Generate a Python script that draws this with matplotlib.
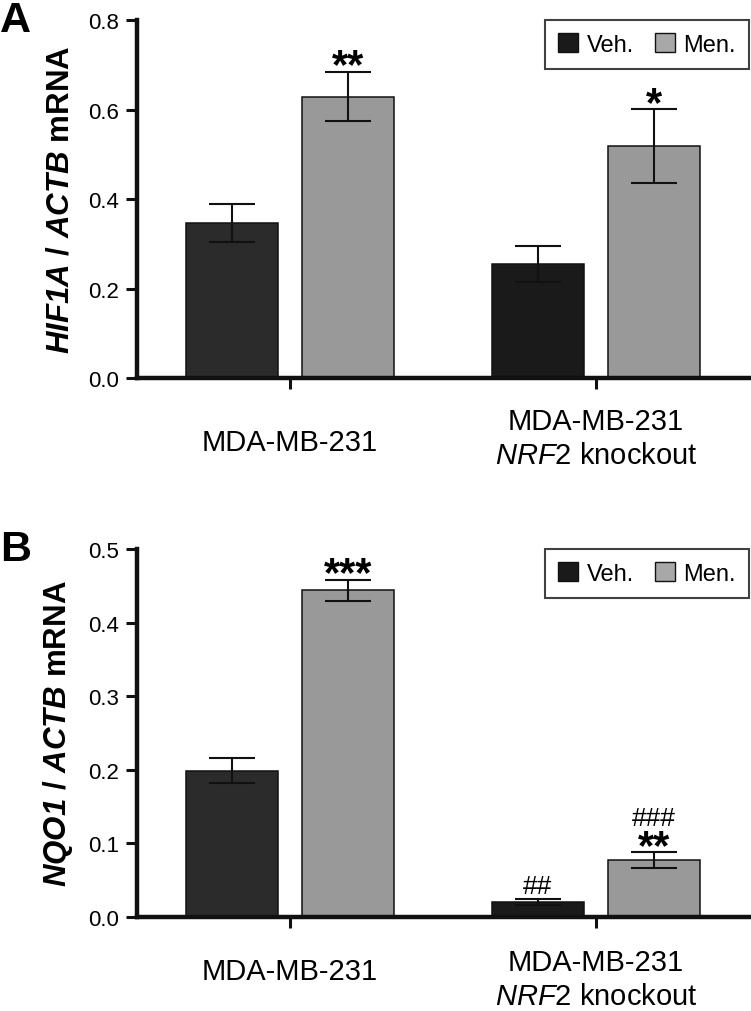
import matplotlib
matplotlib.use('Agg')
import matplotlib.pyplot as plt
import numpy as np
from matplotlib.patches import Patch

plt.rcParams['font.family'] = ['Liberation Sans', 'DejaVu Sans']
plt.rcParams['mathtext.fontset'] = 'custom'
plt.rcParams['mathtext.rm'] = 'Liberation Sans'
plt.rcParams['mathtext.it'] = 'Liberation Sans:italic'
plt.rcParams['mathtext.bf'] = 'Liberation Sans:bold'
plt.rcParams['mathtext.bfit'] = 'Liberation Sans:italic:bold'

# dados
grupos = ['MDA-MB-231', 'MDA-MB-231\n$\\mathit{NRF}$2 knockout']
legenda = ['Veh.', 'Men.']

hif_veh = [0.346, 0.255]
hif_veh_err = [0.042, 0.040]
hif_men = [0.629, 0.518]
hif_men_err = [0.055, 0.083]
hif_sig_men = ['**', '*']
hif_hash_veh = ['', '']
hif_hash_men = ['', '']

nqo_veh = [0.199, 0.020]
nqo_veh_err = [0.017, 0.004]
nqo_men = [0.444, 0.077]
nqo_men_err = [0.0145, 0.011]
nqo_sig_men = ['***', '**']
nqo_hash_veh = ['', '##']
nqo_hash_men = ['', '###']

cor_veh = ['#2b2b2b', '#1a1a1a']
cor_men = '#999999'
cor_leg = ['#1a1a1a', '#a8a8a8']

fig = plt.figure(figsize=(7.51, 10.12), dpi=100)
axA = fig.add_axes([0.1824, 0.6255, 0.815, 0.3537])
axB = fig.add_axes([0.1824, 0.0929, 0.815, 0.3636])

def painel(ax, veh, veh_err, men, men_err, sig_men, hash_veh, hash_men, ymax, ystep, ylabel, letra, dy1, dy2):
    x = np.arange(len(grupos))
    w = 0.30
    off = 0.19
    ax.bar(x - off, veh, w, color=cor_veh, edgecolor='#111111', linewidth=1.1, zorder=2)
    ax.bar(x + off, men, w, color=cor_men, edgecolor='#111111', linewidth=1.1, zorder=2)
    ax.errorbar(x - off, veh, yerr=veh_err, fmt='none', ecolor='#111111', elinewidth=1.5,
                capsize=16.5, capthick=1.5, zorder=3)
    ax.errorbar(x + off, men, yerr=men_err, fmt='none', ecolor='#111111', elinewidth=1.5,
                capsize=16.5, capthick=1.5, zorder=3)
    # asteriscos e cerquilhas
    for i in range(len(x)):
        topo = men[i] + men_err[i]
        if sig_men[i]:
            ax.annotate(sig_men[i], (x[i] + off, topo), xytext=(0, -4), textcoords='offset points',
                        ha='center', va='baseline', fontsize=30, fontweight='bold')
        if hash_men[i]:
            ax.annotate(hash_men[i], (x[i] + off, topo), xytext=(0, 19.5), textcoords='offset points',
                        ha='center', va='baseline', fontsize=19)
        if hash_veh[i]:
            topo_v = veh[i] + veh_err[i]
            ax.annotate(hash_veh[i], (x[i] - off, topo_v), xytext=(0, 4.7), textcoords='offset points',
                        ha='center', va='baseline', fontsize=19)
    ax.set_xlim(-0.5, 1.5)
    ax.set_ylim(0, ymax)
    ticks = np.arange(0, ymax + ystep / 2, ystep)
    ax.set_yticks(ticks)
    ax.set_yticklabels(['%.1f' % v for v in ticks])
    ax.set_xticks(x)
    ax.set_xticklabels(['', ''])
    ax.spines['top'].set_visible(False)
    ax.spines['right'].set_visible(False)
    ax.spines['left'].set_linewidth(3.2)
    ax.spines['bottom'].set_linewidth(3.2)
    ax.spines['left'].set_color('#111111')
    ax.spines['bottom'].set_color('#111111')
    ax.tick_params(axis='y', length=8, width=2.2, labelsize=16, pad=5, color='#111111')
    ax.tick_params(axis='x', length=8, width=2.2, color='#111111')
    ax.set_ylabel(ylabel, fontsize=22.5, fontweight='bold', labelpad=9)
    # rótulos dos grupos
    ax.annotate(grupos[0], (x[0], 0), xycoords=('data', 'axes fraction'), xytext=(0, -dy1),
                textcoords='offset points', ha='center', va='center', fontsize=21)
    ax.annotate(grupos[1], (x[1], 0), xycoords=('data', 'axes fraction'), xytext=(0, -dy2),
                textcoords='offset points', ha='center', va='center', fontsize=21, linespacing=1.25)
    handles = [Patch(facecolor=cor_leg[0], edgecolor='#111111'),
               Patch(facecolor=cor_leg[1], edgecolor='#111111')]
    leg = ax.legend(handles, legenda, loc='upper right', bbox_to_anchor=(1.0, 1.0), ncol=2,
                    fontsize=17, frameon=True, fancybox=False, handlelength=0.85, handleheight=0.85,
                    handletextpad=0.35, columnspacing=0.9, borderpad=0.55, borderaxespad=0.0)
    leg.get_frame().set_edgecolor('#111111')
    leg.get_frame().set_linewidth(1.5)
    ax.text(-0.1824 / 0.815, 1.0, letra, transform=ax.transAxes, fontsize=31, fontweight='bold',
            ha='left', va='center')

painel(axA, hif_veh, hif_veh_err, hif_men, hif_men_err, hif_sig_men, hif_hash_veh, hif_hash_men,
       0.8, 0.2, '$\\mathbfit{HIF1A}$ / $\\mathbfit{ACTB}$ mRNA', 'A', 46, 43.2)
painel(axB, nqo_veh, nqo_veh_err, nqo_men, nqo_men_err, nqo_sig_men, nqo_hash_veh, nqo_hash_men,
       0.5, 0.1, '$\\mathbfit{NQO1}$ / $\\mathbfit{ACTB}$ mRNA', 'B', 38.6, 44.6)

fig.savefig('out.png', dpi=100)
